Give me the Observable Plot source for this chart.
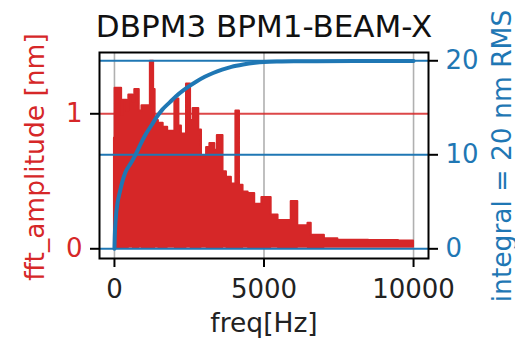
<!DOCTYPE html>
<html><head><meta charset="utf-8">
<script src="https://cdn.jsdelivr.net/npm/d3@7"></script>
<script src="https://cdn.jsdelivr.net/npm/@observablehq/plot@0.6"></script>
<style>
html,body{margin:0;padding:0;background:#fff;overflow:hidden}
#chart svg{display:block}
</style>
</head><body><div id="chart"></div>
<script>
const title = "DBPM3 BPM1-BEAM-X";
const xLabel = "freq[Hz]";
const yLeftLabel = "fft_amplitude [nm]";
const yRightLabel = "integral = 20 nm RMS";
const xTicks = [0, 5000, 10000];
const leftTicks = [0, 1];
const rightTicks = [0, 10, 20];

// FFT amplitude envelope (step breakpoints)
const fftFreq = [0, 20, 240, 290, 420, 480, 620, 680, 830, 920, 1200, 1310, 1360, 1470, 1630, 1780, 2020, 2155, 2240, 2410, 2545, 2630, 2820, 2910, 3080, 3190, 3355, 3440, 3630, 3745, 3910, 4060, 4180, 4300, 4470, 4690, 4930, 5240, 5470, 5910, 6130, 6470, 6580, 7020, 7470, 8500, 9500, 10000];
const fftHigh = [0.82, 1.19, 0.99, 1.10, 1.02, 1.14, 1.09, 1.18, 1.02, 1.06, 1.39, 1.18, 0.95, 0.93, 0.90, 0.87, 1.11, 0.91, 0.85, 1.22, 0.95, 1.04, 0.88, 0.69, 0.75, 0.78, 0.73, 0.84, 0.57, 0.53, 0.48, 1.02, 0.47, 0.42, 0.41, 0.33, 0.38, 0.25, 0.21, 0.35, 0.17, 0.19, 0.10, 0.075, 0.064, 0.062, 0.058, 0.055];
const fftLow  = [0.01, 0.01, 0.012, 0.01, 0.01, 0.012, 0.01, 0.01, 0.012, 0.01, 0.01, 0.01, 0.012, 0.01, 0.01, 0.012, 0.01, 0.01, 0.01, 0.012, 0.01, 0.01, 0.01, 0.012, 0.01, 0.01, 0.01, 0.01, 0.012, 0.01, 0.01, 0.01, 0.01, 0.012, 0.01, 0.01, 0.01, 0.012, 0.01, 0.01, 0.012, 0.01, 0.01, 0.012, 0.012, 0.012, 0.012, 0.012];

// cumulative integral (nm RMS)
const intFreq  = [0, 10, 43, 110, 177, 243, 360, 487, 600, 700, 900, 1050, 1250, 1410, 1600, 1855, 2050, 2300, 2500, 2743, 3020, 3300, 3600, 3910, 4300, 4700, 5000, 5500, 6000, 8000, 10000];
const intValue = [0, 1.3, 3.2, 5.0, 6.0, 6.9, 8.1, 8.8, 9.4, 10.0, 11.3, 12.2, 13.2, 14.0, 14.8, 15.6, 16.2, 16.85, 17.3, 17.8, 18.3, 18.7, 19.05, 19.35, 19.6, 19.78, 19.87, 19.93, 19.95, 19.97, 19.97];

const RED = "#d62728", BLUE = "#1f77b4";
const xDomain = [-500, 10500];
const yDomain = [-0.072, 1.454];
const rDomain = [-1.03, 20.88];
const toLeft = v => yDomain[0] + (v - rDomain[0]) * (yDomain[1] - yDomain[0]) / (rDomain[1] - rDomain[0]);
const fromLeft = y => rDomain[0] + (y - yDomain[0]) * (rDomain[1] - rDomain[0]) / (yDomain[1] - yDomain[0]);

const fft = fftFreq.map((f, i) => ({f, hi: fftHigh[i], lo: fftLow[i]}));
const integ = intFreq.map((f, i) => ({f, v: toLeft(intValue[i])}));

const chart = Plot.plot({
  width: 515, height: 340,
  marginLeft: 99, marginRight: 87, marginTop: 52, marginBottom: 82,
  style: {fontFamily: "DejaVu Sans", background: "white", color: "black"},
  x: {domain: xDomain},
  y: {domain: yDomain},
  marks: [
    Plot.ruleX(xTicks, {stroke: "#b0b0b0", strokeWidth: 1.6}),
    Plot.ruleY([1], {stroke: RED, strokeWidth: 2, strokeOpacity: 0.85}),
    Plot.areaY(fft, {x: "f", y1: "lo", y2: "hi", curve: "step-after", fill: RED, stroke: RED, strokeWidth: 2, strokeLinejoin: "round"}),
    Plot.ruleY(rightTicks.map(toLeft), {stroke: BLUE, strokeWidth: 2}),
    Plot.line(integ, {x: "f", y: "v", stroke: BLUE, strokeWidth: 4, curve: "monotone-x"}),
    Plot.frame({stroke: "black", strokeWidth: 2}),
    Plot.axisX({ticks: xTicks, tickSize: 9, tickPadding: 12, fontSize: 26, label: null, stroke: "black", strokeWidth: 2, fill: "#222", tickFormat: d => String(d)}),
    Plot.axisY({ticks: leftTicks, anchor: "left", tickSize: 9, tickPadding: 8, fontSize: 26, label: null, stroke: "black", strokeWidth: 2, fill: RED, tickFormat: d => String(d)}),
    Plot.axisY({ticks: rightTicks.map(toLeft), anchor: "right", tickSize: 9, tickPadding: 8, fontSize: 26, label: null, stroke: "black", strokeWidth: 2, fill: BLUE, tickFormat: d => String(Math.round(fromLeft(d)))}),
    Plot.text([title], {frameAnchor: "top", dy: -16, lineAnchor: "bottom", textAnchor: "middle", fontSize: 31, fill: "#111"}),
    Plot.text([xLabel], {frameAnchor: "bottom", dy: 73, lineAnchor: "bottom", textAnchor: "middle", fontSize: 26.5, fill: "#222"}),
    Plot.text([yLeftLabel], {frameAnchor: "left", dx: -55.7, dy: 1.5, rotate: -90, lineAnchor: "bottom", textAnchor: "middle", fontSize: 26.5, fill: RED}),
    Plot.text([yRightLabel], {frameAnchor: "right", dx: 82, dy: 0.5, rotate: -90, lineAnchor: "bottom", textAnchor: "middle", fontSize: 26.5, fill: BLUE})
  ]
});
document.getElementById("chart").appendChild(chart);
</script>
</body></html>
